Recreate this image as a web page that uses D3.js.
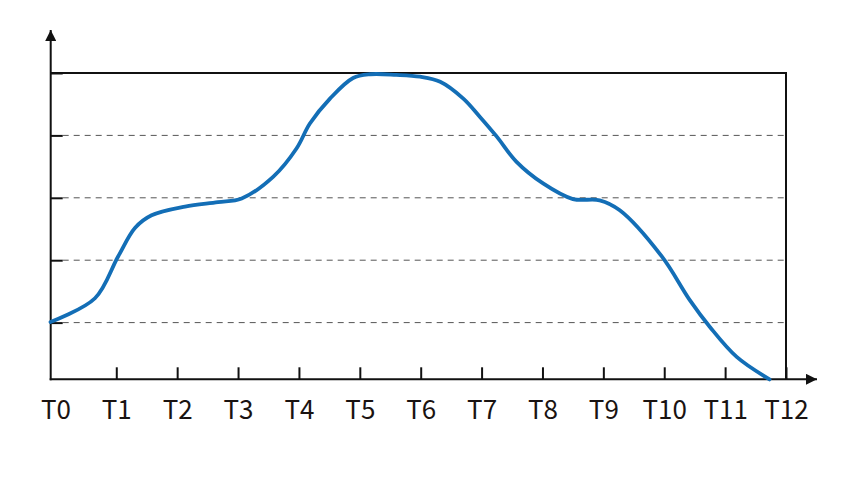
<!DOCTYPE html>
<html>
<head>
<meta charset="utf-8">
<script src="https://cdn.jsdelivr.net/npm/d3@7"></script>
<style>
  body { margin: 0; background: #fff; }
  svg { display: block; }
</style>
</head>
<body>
<div id="chart"></div>
<script>
// tick labels along the time axis
const timeLabels = ["T0", "T1", "T2", "T3", "T4", "T5", "T6", "T7", "T8", "T9", "T10", "T11", "T12"];
// y levels (no labels on the chart)
const levels = [1, 2, 3, 4, 5];
const gridLevels = [1, 2, 3, 4];

// curve: time (in T units) and level
const curveT = [-0.08, 0.65, 1.03, 1.31, 1.58, 2.13, 2.67, 3.06, 3.58, 3.96, 4.18, 4.51, 4.89, 5.17, 5.6, 5.99, 6.32, 6.7, 6.97, 7.25, 7.57, 8.01, 8.5, 8.94, 9.27, 9.96, 10.42, 10.75, 11.19, 11.73];
const curveV = [1.01, 1.39, 2.06, 2.52, 2.72, 2.86, 2.93, 2.99, 3.34, 3.79, 4.19, 4.59, 4.92, 4.98, 4.97, 4.94, 4.86, 4.59, 4.3, 3.98, 3.58, 3.23, 2.98, 2.96, 2.8, 2.06, 1.36, 0.93, 0.45, 0.09];

const width = 845, height = 479;
const x0 = 50.7, yAxis = 379.3;

const svg = d3.select("#chart").append("svg")
    .attr("width", width)
    .attr("height", height);

const x = d3.scaleLinear().domain([0, 12]).range([55.4, 786]);
const y = d3.scaleLinear().domain([0, 5]).range([385, 73]);

const defs = svg.append("defs");
defs.append("marker")
    .attr("id", "arrow")
    .attr("viewBox", "0 0 10 10")
    .attr("refX", 10).attr("refY", 5)
    .attr("markerUnits", "userSpaceOnUse")
    .attr("markerWidth", 15).attr("markerHeight", 11)
    .attr("orient", "auto")
    .append("path")
    .attr("d", "M0,0 L10,5 L0,10 Z")
    .attr("fill", "#111");

// dashed gridlines
svg.append("g")
    .selectAll("line")
    .data(gridLevels)
    .join("line")
    .attr("x1", x0 + 12).attr("x2", x(12))
    .attr("y1", d => y(d)).attr("y2", d => y(d))
    .attr("stroke", "#555")
    .attr("stroke-width", 1)
    .attr("stroke-dasharray", "6,5");

// box: top and right
svg.append("line")
    .attr("x1", x0).attr("x2", x(12) + 1)
    .attr("y1", y(5)).attr("y2", y(5))
    .attr("stroke", "#111").attr("stroke-width", 2);
svg.append("line")
    .attr("x1", x(12)).attr("x2", x(12))
    .attr("y1", y(5)).attr("y2", yAxis)
    .attr("stroke", "#111").attr("stroke-width", 2);

// y axis ticks (no labels)
const yAx = svg.append("g")
    .attr("transform", `translate(${x0},0)`)
    .call(d3.axisLeft(y).tickValues(levels).tickSizeInner(-12).tickSizeOuter(0).tickFormat(""));
yAx.select(".domain").remove();
yAx.selectAll(".tick line").attr("stroke", "#111").attr("stroke-width", 2);

// x axis
const xAx = svg.append("g")
    .attr("transform", `translate(0,${yAxis})`)
    .call(d3.axisBottom(x)
        .tickValues(d3.range(timeLabels.length))
        .tickFormat(i => timeLabels[i])
        .tickSizeInner(-12).tickSizeOuter(0).tickPadding(21));
xAx.select(".domain").remove();
xAx.selectAll(".tick line")
    .attr("stroke", "#111").attr("stroke-width", 2)
    .attr("display", d => d === 0 ? "none" : null);
xAx.selectAll(".tick text")
    .attr("fill", "#1a1311")
    .style("font-family", "'Noto Sans CJK SC', 'Noto Sans', sans-serif")
    .style("font-size", "26px");

// axis lines with arrows
svg.append("line")
    .attr("x1", x0 - 1).attr("x2", 817)
    .attr("y1", yAxis).attr("y2", yAxis)
    .attr("stroke", "#111").attr("stroke-width", 2)
    .attr("marker-end", "url(#arrow)");
svg.append("line")
    .attr("x1", x0).attr("x2", x0)
    .attr("y1", yAxis + 1).attr("y2", 30)
    .attr("stroke", "#111").attr("stroke-width", 2)
    .attr("marker-end", "url(#arrow)");

// curve
const pts = curveT.map((t, i) => [t, curveV[i]]);
const line = d3.line()
    .x(d => x(d[0]))
    .y(d => y(d[1]))
    .curve(d3.curveCatmullRom.alpha(0.5));

svg.append("path")
    .datum(pts)
    .attr("d", line)
    .attr("fill", "none")
    .attr("stroke", "#136eb6")
    .attr("stroke-width", 3.8)
    .attr("stroke-linecap", "round")
    .attr("stroke-linejoin", "round");
</script>
</body>
</html>
